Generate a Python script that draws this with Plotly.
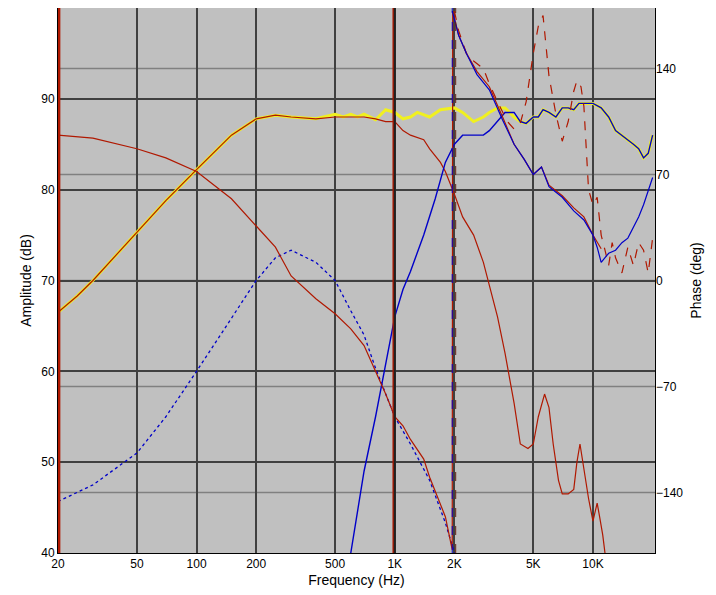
import plotly.graph_objects as go

# Woofer amplitude (dB)
wa_f = [20,25,30,40,50,70,100,150,200,250,300,400,500,600,700,800,900,1000,1100,1200,1400,1500,1700,1800,2000,2200,2500,2800,3000,3300,3600,4000,4300,4700,5000,5300,5700,6000,6300,6700,7000,7500,8000,8300,8600,9000,9500,10000,10500,10800,11200,11500]
wa_v = [66.5,68.3,70,73,75.3,78.8,82.2,86,87.8,88.2,88,87.8,88,88,88,87.8,87.5,87.5,86.5,86,85.5,84.5,83,82,79.5,77,75,72,69.5,66,62,56.5,52,51.5,52,55,57.5,56,52,48,46.5,46.5,47,50,52,49,46,43.5,45.5,44,42,40]
# Woofer phase (deg)
wp_f = [20,30,50,70,100,150,200,250,300,400,500,600,700,800,900,1000,1100,1200,1400,1500,1700,1800,1950,1960,2100,2300,2600,3000,3500,4000,4500,5000,5500,6000,7000,8000,9000,10000,11000]
wp_v = [96,94,87,81,72,54,36,22,3,-12,-22,-32,-43,-60,-75,-90,-96,-105,-118,-130,-148,-156,-178,178,162,150,138,128,108,90,80,70,75,63,56,48,42,30,21]
# Woofer excess phase (deg, dashed)
wx_f = [2000,2100,2300,2500,2800,3000,3300,3700,4000,4300,4600,5000,5300,5600,6000,6500,7000,7500,8000,8300,8700,9000,9500,10000,10500,11000,11500,12000,12500,13000,14000,15000,16000,17000,18000,19000,20000]
wx_v = [178,165,150,145,140,130,118,105,100,104,118,150,168,175,135,110,92,105,125,132,128,115,60,50,55,30,20,10,25,15,5,22,10,25,20,5,28]
# Tweeter amplitude (dB)
ta_f = [600,700,800,900,1000,1100,1200,1400,1600,1800,2000,2200,2500,2800,3000,3300,3600,4000,4300,4600,5000,5300,5600,6000,6500,7000,7500,8000,8500,9000,9500,10000,11000,12000,13000,14000,15000,16000,17000,18000,19000,20000]
ta_v = [40,49,55,61,66,69,71,75,79,83,85,86,86,86,86.5,87.5,88.5,88.5,87.5,87.3,88,88,88.8,88.5,88,89,89,88.8,89.5,89.5,89.5,89.5,89,88,86.5,86,85.5,85,84.5,83.5,84,86]
# Tweeter phase (deg)
tp_f = [1950,2100,2300,2600,3000,3500,4000,4500,5000,5500,6000,7000,8000,9000,10000,10500,11000,11500,12000,13000,14000,15000,16000,17000,18000,19000,20000]
tp_v = [178,162,150,136,126,106,90,80,70,75,62,55,46,40,30,22,12,15,18,20,25,28,35,42,50,60,68]
# Tweeter excess phase (deg, dotted)
tx_f = [20,30,50,70,100,150,200,250,300,400,500,600,700,800,1000,1200,1500,1800,2000]
tx_v = [-146,-135,-114,-90,-60,-25,0,15,20,12,0,-20,-36,-58,-90,-108,-132,-160,-180]
# System sum amplitude (dB)
sa_f = [20,25,30,40,50,70,100,150,200,250,300,400,500,550,600,650,700,800,900,1000,1100,1200,1300,1500,1700,2000,2200,2500,2800,3000,3300,3600,4000,4300,4600,5000,5300,5600,6000,6500,7000,7500,8000,8500,9000,9500,10000,11000,12000,13000,14000,15000,16000,17000,18000,19000,20000]
sa_v = [66.5,68.3,70,73,75.3,78.8,82.2,86,87.8,88.2,88,87.8,88.3,88,88.3,88,88.3,87.7,88.8,88.5,87.8,88,88.5,88,88.8,89,88.5,87.5,88,88.5,89,89,88,87.5,87.3,88,88,88.8,88.5,88,89,89,88.8,89.5,89.5,89.5,89.5,89,88,86.5,86,85.5,85,84.5,83.5,84,86]

xticks = [20,50,100,200,500,1000,2000,5000,10000]
xlabels = ["20","50","100","200","500","1K","2K","5K","10K"]
yticks = [40,50,60,70,80,90,100]
pticks = [-140,-70,0,70,140]

red = "#B01800"; blue = "#0000C8"
fig = go.Figure()
fig.add_trace(go.Scatter(x=tx_f, y=tx_v, yaxis="y2", mode="lines", line=dict(color=blue, width=1.3, dash="dot")))
fig.add_trace(go.Scatter(x=wx_f, y=wx_v, yaxis="y2", mode="lines", line=dict(color=red, width=1.2, dash="dash")))
fig.add_trace(go.Scatter(x=wp_f, y=wp_v, yaxis="y2", mode="lines", line=dict(color=red, width=1.2)))
fig.add_trace(go.Scatter(x=tp_f, y=tp_v, yaxis="y2", mode="lines", line=dict(color=blue, width=1.2)))
fig.add_trace(go.Scatter(x=sa_f, y=sa_v, mode="lines", line=dict(color="#F0F020", width=3)))
fig.add_trace(go.Scatter(x=wa_f, y=wa_v, mode="lines", line=dict(color=red, width=1.2)))
fig.add_trace(go.Scatter(x=ta_f, y=ta_v, mode="lines", line=dict(color=blue, width=1.4)))

shapes = []
for v in pticks:
    shapes.append(dict(type="line", xref="paper", x0=0, x1=1, yref="y2", y0=v, y1=v, line=dict(color="#808080", width=1.5), layer="below"))
for x, c, w, d in [(20.2, red, 3, "solid"), (985, red, 2, "solid"), (1000, "#202020", 2, "solid"), (1950, blue, 1, "dash"), (2030, "#602010", 1, "dash")]:
    shapes.append(dict(type="line", x0=x, x1=x, yref="paper", y0=0, y1=1, line=dict(color=c, width=w, dash=d)))

fig.update_layout(
    width=708, height=587, showlegend=False,
    paper_bgcolor="white", plot_bgcolor="#C0C0C0",
    margin=dict(l=50, r=61, t=0, b=42),
    font=dict(family="Liberation Sans, Arial", size=12, color="black"),
    shapes=shapes,
    xaxis=dict(type="log", range=[1.301, 4.313], tickvals=xticks, ticktext=xlabels, automargin=False,
               showgrid=True, gridcolor="#404040", gridwidth=1.5, showline=True, linecolor="black", mirror=True,
               ticks="", title=dict(text="Frequency (Hz)", standoff=4), zeroline=False),
    yaxis=dict(range=[40, 100], tickvals=yticks, showgrid=True, gridcolor="#404040", gridwidth=1.5, automargin=False,
               showline=True, linecolor="black", mirror=True, ticks="", title=dict(text="Amplitude (dB)", standoff=6), zeroline=False),
    yaxis2=dict(range=[-180, 180], tickvals=pticks, overlaying="y", side="right", showgrid=False, automargin=False,
                ticks="", title=dict(text="Phase (deg)", standoff=8), zeroline=False),
)
fig.write_html("out.html")
